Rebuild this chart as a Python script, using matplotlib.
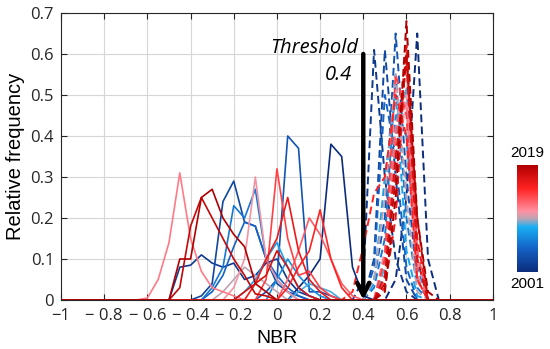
import numpy as np
import matplotlib
matplotlib.use("Agg")
import matplotlib.pyplot as plt
from matplotlib.colors import LinearSegmentedColormap, Normalize
from matplotlib.cm import ScalarMappable

# NBR histogram bins (0.05 wide) from -1 to 1
nbr_bins = np.round(np.arange(-1.0, 1.0001, 0.05), 2)

years = list(range(2001, 2020))

# burned (solid) histograms: first bin and relative frequencies per year
burned_start = [0.05, -0.5, -0.4, -0.1, -0.35, -0.4, -0.05, -0.2, 0.05, -0.3,
                -0.25, -0.65, 0.0, -0.1, 0.0, -0.15, -0.2, -0.5, -0.5]
burned_freq = [
    [0.0, 0.03, 0.06, 0.10, 0.38, 0.35, 0.08, 0.01, 0.0],
    [0.0, 0.08, 0.085, 0.11, 0.09, 0.08, 0.09, 0.05, 0.06, 0.09, 0.10, 0.05, 0.02, 0.01, 0.0],
    [0.0, 0.01, 0.04, 0.24, 0.29, 0.19, 0.18, 0.10, 0.04, 0.02, 0.01, 0.0],
    [0.0, 0.02, 0.05, 0.40, 0.37, 0.02, 0.02, 0.01, 0.0],
    [0.0, 0.02, 0.06, 0.13, 0.19, 0.18, 0.10, 0.06, 0.03, 0.01, 0.0],
    [0.0, 0.0, 0.03, 0.08, 0.23, 0.20, 0.27, 0.10, 0.05, 0.02, 0.0],
    [0.0, 0.05, 0.10, 0.06, 0.03, 0.01, 0.0],
    [0.0, 0.02, 0.05, 0.10, 0.14, 0.08, 0.03, 0.01, 0.0],
    [0.0, 0.02, 0.04, 0.03, 0.02, 0.0],
    [0.0, 0.02, 0.05, 0.08, 0.06, 0.04, 0.02, 0.0],
    [0.0, 0.03, 0.10, 0.30, 0.10, 0.05, 0.02, 0.0],
    [0.0, 0.005, 0.05, 0.14, 0.31, 0.15, 0.07, 0.03, 0.02, 0.01, 0.0],
    [0.0, 0.05, 0.12, 0.20, 0.16, 0.10, 0.04, 0.01, 0.0],
    [0.0, 0.05, 0.32, 0.15, 0.06, 0.07, 0.03, 0.01, 0.0],
    [0.0, 0.03, 0.08, 0.12, 0.22, 0.10, 0.03, 0.0],
    [0.0, 0.04, 0.10, 0.15, 0.25, 0.12, 0.05, 0.02, 0.0],
    [0.0, 0.02, 0.04, 0.06, 0.12, 0.08, 0.03, 0.01, 0.0],
    [0.0, 0.03, 0.18, 0.25, 0.20, 0.15, 0.10, 0.06, 0.015, 0.01, 0.0],
    [0.0, 0.10, 0.10, 0.25, 0.27, 0.20, 0.16, 0.13, 0.04, 0.02, 0.0],
]

# unburned (dashed) histograms
unburned_start = [0.5, 0.35, 0.4, 0.4, 0.4, 0.4, 0.45, 0.4, 0.45, 0.4,
                  0.45, 0.45, 0.45, 0.45, 0.3, 0.45, 0.45, 0.45, 0.45]
unburned_freq = [
    [0.0, 0.05, 0.25, 0.65, 0.10, 0.0],
    [0.0, 0.05, 0.61, 0.30, 0.10, 0.02, 0.0],
    [0.0, 0.10, 0.61, 0.30, 0.05, 0.0],
    [0.0, 0.05, 0.20, 0.65, 0.30, 0.05, 0.0],
    [0.0, 0.08, 0.50, 0.35, 0.08, 0.0],
    [0.0, 0.03, 0.15, 0.55, 0.20, 0.03, 0.0],
    [0.0, 0.10, 0.45, 0.40, 0.08, 0.0],
    [0.0, 0.04, 0.30, 0.50, 0.12, 0.01, 0.0],
    [0.0, 0.08, 0.35, 0.52, 0.10, 0.0],
    [0.0, 0.05, 0.25, 0.55, 0.25, 0.02, 0.0],
    [0.0, 0.10, 0.30, 0.50, 0.10, 0.0],
    [0.0, 0.12, 0.42, 0.48, 0.06, 0.0],
    [0.0, 0.05, 0.40, 0.60, 0.12, 0.0],
    [0.0, 0.10, 0.55, 0.45, 0.05, 0.0],
    [0.0, 0.02, 0.13, 0.26, 0.30, 0.50, 0.40, 0.05, 0.0],
    [0.0, 0.03, 0.20, 0.62, 0.15, 0.0],
    [0.0, 0.06, 0.35, 0.58, 0.10, 0.0],
    [0.0, 0.04, 0.30, 0.60, 0.20, 0.0],
    [0.0, 0.02, 0.25, 0.68, 0.20, 0.02, 0.0],
]

xtick_vals = [-1, -0.8, -0.6, -0.4, -0.2, 0, 0.2, 0.4, 0.6, 0.8, 1]
xtick_text = ["\u22121", "\u2212 0.8", "\u2212 0.6", "\u2212 0.4", "\u2212 0.2",
              "0", "0.2", "0.4", "0.6", "0.8", "1"]

cmap = LinearSegmentedColormap.from_list(
    "yr", [(0.0, "#0c2c7c"), (0.22, "#1462c6"), (0.42, "#18aef2"),
           (0.5, "#bca4b4"), (0.57, "#ff90a0"), (0.78, "#ff2222"),
           (1.0, "#b00000")])
norm = Normalize(2001, 2019)


def full_hist(start, vals):
    y = np.zeros(len(nbr_bins))
    i0 = int(round((start + 1.0) / 0.05))
    y[i0:i0 + len(vals)] = vals
    return y


fig = plt.figure(figsize=(5.5, 3.49), dpi=100)
ax = fig.add_axes([0.111, 0.1404, 0.785, 0.8224])

for yr, st, v in zip(years, unburned_start, unburned_freq):
    ax.plot(nbr_bins, full_hist(st, v), color=cmap(norm(yr)), lw=1.4,
            dashes=(4, 2.2))
for yr, st, v in zip(years, burned_start, burned_freq):
    ax.plot(nbr_bins, full_hist(st, v), color=cmap(norm(yr)), lw=1.2)

# threshold arrow
ax.annotate("", xy=(0.4, 0.0), xytext=(0.4, 0.6),
            arrowprops=dict(arrowstyle="->", lw=3.2, color="k",
                            mutation_scale=22, shrinkA=0, shrinkB=0))
ax.text(0.375, 0.614, "Threshold", ha="right", va="center", style="italic",
        fontsize=14.5, family="Open Sans")
ax.text(0.35, 0.548, "0.4", ha="right", va="center", style="italic",
        fontsize=14.5, family="Open Sans")

ax.set_xlim(-1, 1)
ax.set_ylim(0, 0.7)
ax.set_xticks(xtick_vals)
ax.set_xticklabels(xtick_text)
ax.set_yticks(np.arange(0, 0.71, 0.1))
ax.set_yticklabels(["0", "0.1", "0.2", "0.3", "0.4", "0.5", "0.6", "0.7"])
for lab in ax.get_xticklabels() + ax.get_yticklabels():
    lab.set_family("Open Sans")
    lab.set_fontsize(12)
ax.tick_params(direction="in", top=True, right=True, length=4, width=0.8,
               colors="#262626")
ax.tick_params(axis="x", pad=6)
ax.tick_params(axis="y", pad=5)
ax.grid(True, color="#d6d6d6", lw=0.8)
ax.set_axisbelow(True)
for s in ax.spines.values():
    s.set_color("#262626")
    s.set_linewidth(0.8)

ax.set_xlabel("NBR", fontsize=14, family="Liberation Sans", labelpad=4)
ax.set_ylabel("Relative frequency", fontsize=14.5, family="Liberation Sans",
              labelpad=4)

cax = fig.add_axes([0.94, 0.2206, 0.038, 0.3066])
cb = fig.colorbar(ScalarMappable(norm=norm, cmap=cmap), cax=cax, ticks=[])
cb.outline.set_visible(False)
cax.text(0.5, 1.05, "2019", transform=cax.transAxes, ha="center", va="bottom",
         fontsize=11, family="Liberation Sans")
cax.text(0.5, -0.05, "2001", transform=cax.transAxes, ha="center", va="top",
         fontsize=11, family="Liberation Sans")

fig.savefig("out.png", dpi=100)
